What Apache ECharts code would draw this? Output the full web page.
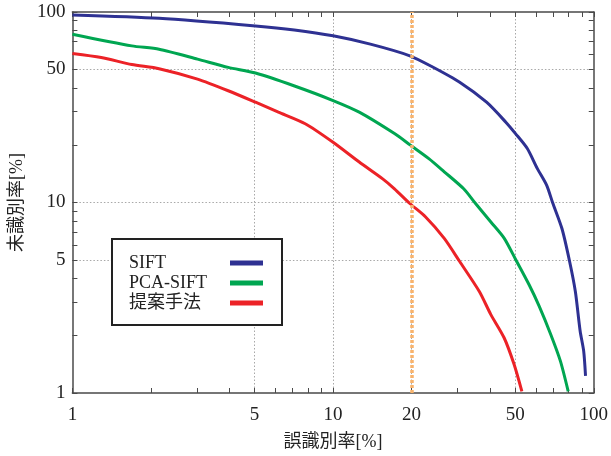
<!DOCTYPE html>
<html>
<head>
<meta charset="utf-8">
<script src="https://cdn.jsdelivr.net/npm/echarts@6/dist/echarts.min.js"></script>
<style>
  html, body { margin: 0; padding: 0; background: #fff; }
  #chart { width: 611px; height: 456px; }
</style>
</head>
<body>
<div id="chart"></div>
<script>
// data (誤識別率 vs 未識別率, both in %)
const siftX = [1, 2.15, 5.04, 7.1, 10, 13.9, 19.7, 24, 30.6, 38.8, 46, 50.1, 55.6, 60.7, 66, 69.5, 75.5, 80.8, 85, 88.7, 91.5, 93]
const siftY = [96.4, 92.6, 84.5, 80.5, 75, 67.8, 58.9, 51.6, 42.8, 33.6, 26.4, 23, 19.2, 15.1, 12.3, 10, 7.3, 4.9, 3.41, 2.11, 1.66, 1.23]
const pcaX = [1, 1.69, 2.15, 3.02, 3.96, 5.04, 7.07, 10, 12.6, 17.2, 19.8, 23.3, 26.7, 31.7, 35.2, 40.3, 45.3, 50.1, 56.5, 61.8, 68.4, 74.5, 79.8]
const pcaY = [76.5, 66.4, 63.8, 56.6, 51.2, 47.8, 41, 34.3, 29.8, 23, 20, 17, 14.5, 11.8, 9.88, 7.9, 6.5, 5.04, 3.7, 2.85, 2.03, 1.47, 1.02]
const propX = [1, 1.29, 1.69, 2.15, 3.02, 3.96, 5.04, 6.17, 7.82, 10, 12.6, 15.5, 17.2, 19.7, 22.6, 26.7, 30.6, 36.4, 40.3, 45.3, 49.5, 53]
const propY = [60.6, 57.7, 53, 50.4, 44.4, 38.6, 33.6, 29.8, 25.9, 20.7, 16.3, 13.3, 11.8, 9.88, 8.42, 6.48, 4.9, 3.41, 2.58, 1.95, 1.41, 1.02]
const seriesNames = ['SIFT', 'PCA-SIFT', '提案手法']
const xLabels = [1, 5, 10, 20, 50, 100]
const yLabels = [1, 5, 10, 50, 100]
const xGrid = [5, 10, 20, 50]
const yGrid = [5, 10, 50]
const minorTicks = [1, 2, 3, 4, 5, 6, 7, 8, 9, 10, 20, 30, 40, 50, 60, 70, 80, 90, 100]
const thresholdX = 20

const colors = ['#2e3192', '#00a651', '#ec2227']
const serif = '"Liberation Serif", "Noto Sans CJK JP", serif'
const frame = '#4a4a4a'

const zip = (xs, ys) => xs.map((x, i) => [x, ys[i]])

const frameAxis = (pos, labels, extra) => Object.assign({
  type: 'log',
  position: pos,
  min: 1,
  max: 100,
  axisLine: { show: true, lineStyle: { color: frame, width: 1.5 } },
  axisTick: { show: true, inside: true, length: 5, customValues: minorTicks, lineStyle: { color: frame, width: 1 } },
  axisLabel: labels ? {
    show: true, customValues: labels, color: '#222', fontFamily: serif, fontSize: 19,
    formatter: v => String(v)
  } : { show: false },
  splitLine: { show: false }
}, extra)

const gridAxis = (pos, vals) => ({
  type: 'log',
  position: pos,
  min: 1,
  max: 100,
  axisLine: { show: false },
  axisTick: { show: false, customValues: vals },
  axisLabel: { show: false },
  splitLine: { show: true, lineStyle: { color: '#a8a8a8', width: 1, type: [1.5, 2] } }
})

const chart = echarts.init(document.getElementById('chart'))

chart.setOption({
  animation: false,
  grid: { left: 68, right: 17, top: 12, bottom: 62 },
  legend: {
    data: seriesNames,
    orient: 'vertical',
    left: 112,
    top: 239,
    align: 'right',
    icon: 'rect',
    itemWidth: 33,
    itemHeight: 5,
    itemGap: 2,
    padding: [15, 19, 13, 17],
    backgroundColor: '#fff',
    borderColor: '#222',
    borderWidth: 2,
    formatter: name => `{t|${name}}`,
    textStyle: {
      color: '#222', fontFamily: serif, fontSize: 18, lineHeight: 18,
      rich: { t: { width: 96, align: 'left', color: '#222', fontFamily: serif, fontSize: 18, lineHeight: 18 } }
    }
  },
  xAxis: [
    gridAxis('bottom', xGrid),
    frameAxis('bottom', xLabels, {
      name: '誤識別率[%]', nameLocation: 'middle', nameGap: 40,
      nameTextStyle: { color: '#222', fontFamily: serif, fontSize: 18 },
      axisLabel: {
        show: true, customValues: xLabels, color: '#222', fontFamily: serif, fontSize: 19,
        margin: 13, formatter: v => String(v)
      }
    }),
    frameAxis('top', null)
  ],
  yAxis: [
    gridAxis('left', yGrid),
    frameAxis('left', yLabels, {
      name: '未識別率[%]', nameLocation: 'middle', nameGap: 44,
      nameTextStyle: { color: '#222', fontFamily: serif, fontSize: 18 },
      axisLabel: {
        show: true, customValues: yLabels, color: '#222', fontFamily: serif, fontSize: 19,
        margin: 7, formatter: v => String(v)
      }
    }),
    frameAxis('right', null)
  ],
  series: [
    {
      type: 'line', xAxisIndex: 1, yAxisIndex: 1, data: [], z: 1, silent: true,
      markLine: {
        silent: true, symbol: 'none', label: { show: false },
        lineStyle: { color: '#f8b36c', width: 3.5, type: [3, 2], opacity: 1 },
        data: [{ xAxis: thresholdX }]
      }
    },
    ...[zip(siftX, siftY), zip(pcaX, pcaY), zip(propX, propY)].map((d, i) => ({
      name: seriesNames[i],
      type: 'line',
      xAxisIndex: 1,
      yAxisIndex: 1,
      data: d,
      z: 3,
      smooth: 0.25,
      showSymbol: false,
      color: colors[i],
      lineStyle: { width: 3, color: colors[i] }
    }))
  ]
})
</script>
</body>
</html>
